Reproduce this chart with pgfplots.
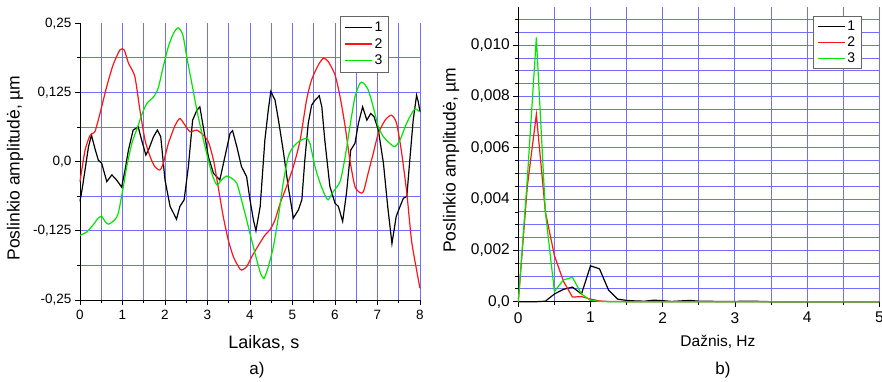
\documentclass[border=0pt]{standalone}
\usepackage{fontspec}
\setmainfont{Liberation Sans}
\usepackage{pgfplots}
\pgfplotsset{compat=1.18}
\definecolor{gridblue}{RGB}{110,110,255}
\definecolor{cgreen}{RGB}{0,230,0}
\definecolor{cred}{RGB}{255,20,20}
\pgfplotsset{
  common/.style={
    scale only axis,
    axis x line=bottom, axis y line=left,
    axis line style={-, black, line width=1pt},
    tick align=outside,
    major tick length=5pt, minor tick length=3pt,
    every tick/.style={black, line width=0.8pt},
    grid style={gridblue, line width=0.9pt},
    minor grid style={gridblue, line width=0.9pt},
    /pgf/number format/assume math mode=true,
    scaled y ticks=false,
    clip=false,
    legend cell align=left,
    legend image code/.code={\draw[#1] (0pt,0pt) -- (27pt,0pt);},
  },
}
\begin{document}
\begin{tikzpicture}
\useasboundingbox (0pt,0pt) rectangle (882pt,381pt);
% ---------- a) ----------
\begin{axis}[common,
  at={(80pt,81pt)}, anchor=south west,
  width=340pt, height=276.7pt,
  xmin=0, xmax=8, ymin=-0.25, ymax=0.25,
  xtick={0,1,...,8},
  minor xtick={0.5,1.5,...,7.5},
  xmajorgrids=true, xminorgrids=true,
  ytick={-0.25,-0.125,0,0.125,0.25},
  yticklabels={{-0,25},{-0,125},{0,0},{0,125},{0,25}},
  minor ytick={-0.1875,-0.125,-0.0625,0,0.0625,0.125,0.1875},
  yminorgrids=true, ymajorgrids=false,
  tick label style={font=\fontsize{13.5}{15}\selectfont},
  xticklabel style={yshift=-2pt},
  xlabel={Laikas, s},
  ylabel={Poslinkio amplitudė, µm},
  xlabel style={font=\fontsize{18}{20}\selectfont, at={(axis description cs:0.541,-0.155)}, anchor=center},
  ylabel style={font=\fontsize{17.5}{20}\selectfont, at={(axis description cs:-0.191,0.477)}, anchor=center},
  legend style={at={(axis description cs:0.765,1.027)}, anchor=north west,
    draw=gray!80!black, line width=0.9pt, fill=white,
    font=\fontsize{14}{16}\selectfont, inner xsep=4pt, inner ysep=3.5pt,
    row sep=1.5pt},
]
\addplot[black, line width=1.2pt] coordinates {
(0,-0.072)(0.06,-0.045)(0.2,0.027)(0.27,0.048)(0.35,0.024)(0.43,0.003)(0.51,-0.003)(0.63,-0.036)(0.75,-0.024)(0.86,-0.033)(0.98,-0.046)(1.06,-0.015)(1.14,0.021)(1.25,0.057)(1.37,0.063)(1.45,0.039)(1.55,0.012)(1.61,0.021)(1.73,0.045)(1.82,0.057)(1.9,0.045)(2.0,-0.033)(2.12,-0.081)(2.2,-0.093)(2.27,-0.104)(2.35,-0.081)(2.45,-0.069)(2.55,-0.009)(2.65,0.075)(2.75,0.093)(2.82,0.099)(2.9,0.063)(3.02,0.009)(3.14,-0.021)(3.29,-0.033)(3.41,0.009)(3.53,0.051)(3.59,0.056)(3.69,0.027)(3.8,-0.009)(3.92,-0.027)(4.0,-0.069)(4.08,-0.105)(4.14,-0.125)(4.24,-0.081)(4.35,0.039)(4.43,0.093)(4.49,0.127)(4.59,0.111)(4.67,0.075)(4.78,0.021)(4.9,-0.045)(5.02,-0.102)(5.14,-0.087)(5.22,-0.069)(5.29,0.003)(5.37,0.069)(5.45,0.102)(5.53,0.111)(5.63,0.119)(5.69,0.099)(5.76,0.039)(5.88,-0.045)(6.0,-0.075)(6.08,-0.081)(6.18,-0.108)(6.27,-0.057)(6.37,0.021)(6.47,0.033)(6.55,0.069)(6.65,0.099)(6.75,0.075)(6.84,0.087)(6.92,0.081)(7.02,0.057)(7.14,-0.003)(7.24,-0.081)(7.34,-0.148)(7.44,-0.099)(7.53,-0.081)(7.61,-0.066)(7.69,-0.063)(7.76,0.003)(7.84,0.075)(7.92,0.120)(7.96,0.108)(8.0,0.090)
};
\addlegendentry{1}
\addplot[cred, line width=1.2pt, smooth, tension=0.4] coordinates {
(0,-0.036)(0.12,0.021)(0.24,0.048)(0.35,0.054)(0.47,0.087)(0.63,0.136)(0.78,0.175)(0.94,0.202)(1.04,0.202)(1.14,0.178)(1.29,0.154)(1.41,0.093)(1.53,0.039)(1.65,0.009)(1.76,-0.009)(1.88,-0.015)(1.96,-0.003)(2.08,0.033)(2.24,0.066)(2.35,0.078)(2.47,0.066)(2.59,0.054)(2.75,0.057)(2.9,0.048)(3.02,0.036)(3.14,0.003)(3.25,-0.045)(3.37,-0.099)(3.49,-0.142)(3.61,-0.172)(3.73,-0.190)(3.8,-0.196)(3.92,-0.190)(4.04,-0.172)(4.2,-0.151)(4.35,-0.133)(4.47,-0.123)(4.59,-0.105)(4.71,-0.075)(4.86,-0.045)(5.02,-0.009)(5.18,0.039)(5.33,0.111)(5.45,0.148)(5.61,0.175)(5.73,0.187)(5.84,0.181)(6.0,0.157)(6.12,0.117)(6.24,0.063)(6.35,0.003)(6.47,-0.045)(6.59,-0.056)(6.67,-0.054)(6.78,-0.021)(6.9,0.015)(7.02,0.051)(7.18,0.075)(7.33,0.084)(7.45,0.069)(7.57,0.015)(7.69,-0.057)(7.8,-0.142)(7.92,-0.196)(8.0,-0.229)
};
\addlegendentry{2}
\addplot[cgreen, line width=1.2pt, smooth, tension=0.4] coordinates {
(0,-0.133)(0.16,-0.127)(0.31,-0.114)(0.43,-0.102)(0.51,-0.099)(0.59,-0.108)(0.67,-0.113)(0.82,-0.105)(0.9,-0.093)(1.0,-0.054)(1.1,-0.009)(1.22,0.033)(1.33,0.057)(1.45,0.084)(1.57,0.105)(1.73,0.117)(1.84,0.133)(1.96,0.172)(2.08,0.208)(2.2,0.232)(2.31,0.242)(2.42,0.229)(2.51,0.190)(2.63,0.142)(2.75,0.093)(2.86,0.054)(2.98,0.015)(3.1,-0.021)(3.22,-0.042)(3.33,-0.033)(3.45,-0.026)(3.57,-0.030)(3.69,-0.039)(3.8,-0.069)(3.92,-0.105)(4.04,-0.142)(4.16,-0.178)(4.25,-0.202)(4.33,-0.211)(4.43,-0.190)(4.55,-0.154)(4.67,-0.099)(4.78,-0.039)(4.9,0.009)(5.02,0.027)(5.18,0.038)(5.33,0.042)(5.41,0.033)(5.53,-0.009)(5.65,-0.039)(5.76,-0.060)(5.84,-0.069)(5.96,-0.054)(6.12,-0.036)(6.24,0.009)(6.35,0.063)(6.47,0.117)(6.59,0.142)(6.67,0.142)(6.78,0.130)(6.9,0.099)(7.02,0.063)(7.14,0.045)(7.29,0.033)(7.41,0.027)(7.53,0.039)(7.65,0.063)(7.76,0.081)(7.88,0.095)(8.0,0.090)
};
\addlegendentry{3}
\end{axis}
% ---------- b) ----------
\begin{axis}[common,
  at={(518.3pt,79.3pt)}, anchor=south west,
  width=361pt, height=295pt,
  xmin=0, xmax=5, ymin=0, ymax=0.0115,
  xtick={0,1,...,5},
  minor xtick={0.5,1.5,...,4.5},
  xmajorgrids=true, xminorgrids=true,
  ytick={0,0.002,0.004,0.006,0.008,0.010},
  yticklabels={{0,0},{0,002},{0,004},{0,006},{0,008},{0,010}},
  minor ytick={0.0005,0.001,...,0.0112},
  yminorgrids=true, ymajorgrids=false,
  tick label style={font=\fontsize{15.5}{17}\selectfont},
  xticklabel style={yshift=-2pt},
  xlabel={Dažnis, Hz},
  ylabel={Poslinkio amplitudė, µm},
  xlabel style={font=\fontsize{15.5}{18}\selectfont, at={(axis description cs:0.553,-0.136)}, anchor=center},
  ylabel style={font=\fontsize{17.5}{20}\selectfont, at={(axis description cs:-0.186,0.480)}, anchor=center},
  legend style={at={(axis description cs:0.8155,0.9695)}, anchor=north west,
    draw=gray!80!black, line width=0.9pt, fill=white,
    font=\fontsize{14}{16}\selectfont, inner xsep=4pt, inner ysep=3pt,
    row sep=0.5pt},
]
\addplot[black, line width=1.2pt] coordinates {
(0,0)(0.125,0)(0.25,0)(0.375,0.00002)(0.5,0.0003)(0.625,0.00048)(0.75,0.00057)(0.875,0.0003)(1.0,0.0014)(1.125,0.00128)(1.25,0.00045)(1.375,0.0001)(1.5,0.00005)(1.625,0.00003)(1.75,0.00002)(1.875,0.00006)(2.0,0.00004)(2.125,0.00001)(2.25,0.00003)(2.375,0.00005)(2.5,0.00002)(2.625,0.00002)(2.75,0.00001)(2.875,0.00001)(3.0,0.00001)(3.125,0.00002)(3.25,0.00002)(3.375,0.00001)(3.5,0)(4,0)(5,0)
};
\addlegendentry{1}
\addplot[cred, line width=1.2pt] coordinates {
(0,0)(0.125,0.0045)(0.25,0.0073)(0.375,0.0035)(0.5,0.0018)(0.625,0.0008)(0.75,0.00018)(0.875,0.0002)(1.0,0.0001)(1.125,0.00003)(1.25,0.00001)(1.375,0.00001)(1.5,0)(2,0)(3,0)(4,0)(5,0)
};
\addlegendentry{2}
\addplot[cgreen, line width=1.2pt] coordinates {
(0,0)(0.125,0.0048)(0.25,0.0103)(0.375,0.0035)(0.5,0.0004)(0.625,0.00085)(0.75,0.00095)(0.875,0.0003)(1.0,0.00005)(1.125,0.00001)(1.25,0)(2,0)(3,0)(4,0)(5,0)
};
\addlegendentry{3}
\end{axis}
\node[font=\fontsize{17}{19}\selectfont] at (257pt,11pt) {a)};
\node[font=\fontsize{17}{19}\selectfont] at (723pt,11pt) {b)};
\end{tikzpicture}
\end{document}
